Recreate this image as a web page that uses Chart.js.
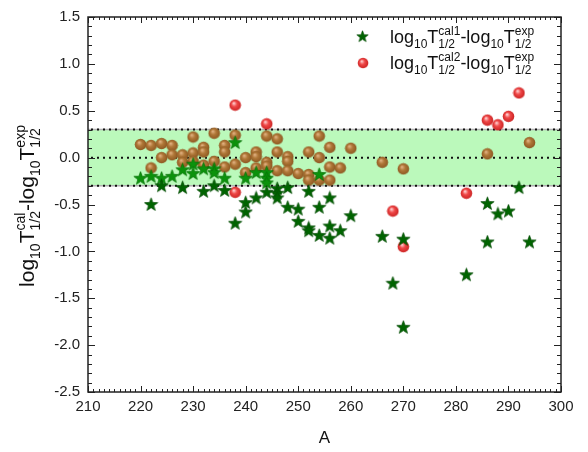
<!DOCTYPE html>
<html>
<head>
<meta charset="utf-8">
<script src="https://cdn.jsdelivr.net/npm/chart.js@4"></script>
<style>
  body { margin: 0; background: #fff; }
</style>
</head>
<body>
<canvas id="decay" width="588" height="452"></canvas>
<script>
// mass number A and log10 T(cal) - log10 T(exp)
var cal1A = [220, 222, 222, 224, 224, 226, 228, 228, 230, 230, 232, 232, 234, 234, 234, 236, 236, 238, 238,
  240, 240, 240, 242, 242, 244, 244, 244, 244, 246, 246, 246, 248, 248, 250, 250, 252, 252, 252,
  254, 254, 254, 256, 256, 256, 258, 260, 266, 268, 270, 270, 282, 286, 286, 288, 290, 292, 294];
var cal1Diff = [-0.22, -0.20, -0.50, -0.22, -0.30, -0.20, -0.13, -0.32, -0.07, -0.17, -0.12, -0.36, -0.12, -0.16, -0.30, -0.22, -0.35, 0.16, -0.70,
  -0.22, -0.48, -0.58, -0.16, -0.43, -0.16, -0.22, -0.27, -0.37, -0.33, -0.38, -0.43, -0.32, -0.53, -0.55, -0.68, -0.36, -0.75, -0.78,
  -0.18, -0.53, -0.83, -0.43, -0.73, -0.86, -0.78, -0.62, -0.84, -1.34, -0.87, -1.81, -1.25, -0.49, -0.90, -0.60, -0.57, -0.32, -0.90];

var cal2A = [220, 222, 222, 224, 224, 226, 226, 228, 228, 230, 230, 230, 232, 232, 232, 234, 234, 236, 236, 236,
  238, 238, 238, 238, 240, 240, 242, 242, 242, 244, 244, 244, 244, 246, 246, 246, 248, 248, 248, 250,
  252, 252, 252, 254, 254, 254, 256, 256, 256, 258, 260, 266, 268, 270, 270, 282, 286, 286, 288, 290, 292, 294];
var cal2Diff = [0.14, 0.13, -0.11, 0.15, 0.00, 0.13, 0.03, 0.03, -0.05, 0.22, 0.05, -0.04, 0.11, 0.06, -0.08, 0.26, -0.04, 0.13, 0.06, -0.10,
  0.56, 0.24, -0.07, -0.37, 0.00, -0.16, 0.06, 0.01, -0.11, 0.36, 0.23, -0.05, -0.09, 0.20, 0.06, -0.14, 0.01, -0.04, -0.14, -0.17,
  0.06, -0.18, -0.24, 0.23, 0.00, -0.24, 0.11, -0.10, -0.24, -0.11, 0.10, -0.05, -0.57, -0.12, -0.95, -0.38, 0.40, 0.04, 0.35, 0.44, 0.69, 0.16];

var xTicks = [210, 220, 230, 240, 250, 260, 270, 280, 290, 300];
var yTicks = [1.5, 1.0, 0.5, 0.0, -0.5, -1.0, -1.5, -2.0, -2.5];
var band = 0.3;

var FONT = '"Liberation Sans", Arial, sans-serif';

// marker images
function makeBall(light, base, dark) {
  var c = document.createElement('canvas');
  c.width = c.height = 13;
  var g = c.getContext('2d');
  var grd = g.createRadialGradient(5, 4.5, 0.4, 6.5, 6.5, 6.2);
  grd.addColorStop(0, light);
  grd.addColorStop(0.4, base);
  grd.addColorStop(1, dark);
  g.fillStyle = grd;
  g.beginPath();
  g.arc(6.5, 6.5, 5.8, 0, Math.PI * 2);
  g.fill();
  return c;
}
function makeStar(fill, stroke) {
  var c = document.createElement('canvas');
  c.width = c.height = 15;
  var g = c.getContext('2d');
  g.beginPath();
  for (var i = 0; i < 10; i++) {
    var r = i % 2 ? 2.9 : 7;
    var a = -Math.PI / 2 + i * Math.PI / 5;
    var px = 7.5 + r * Math.cos(a), py = 7.8 + r * Math.sin(a);
    if (i) g.lineTo(px, py); else g.moveTo(px, py);
  }
  g.closePath();
  g.fillStyle = fill;
  g.fill();
  g.lineWidth = 0.7;
  g.strokeStyle = stroke;
  g.stroke();
  return c;
}
var redBall = makeBall('#ffd0d0', '#f04848', '#c82020');
var brownBall = makeBall('#e0b080', '#b07838', '#8a5520');
var darkStar = makeStar('#006400', '#004a00');
var lightStar = makeStar('#0c920c', '#067006');

// text with sub/superscripts
var labelParts = function (tag) {
  return [{ t: 'log' }, { sub: '10' }, { t: 'T' }, { sup: tag, sub: '1/2' },
    { t: '-log' }, { sub: '10' }, { t: 'T' }, { sup: 'exp', sub: '1/2' }];
};
function drawRich(ctx, parts, x, y, big, small, dry) {
  var cx = x;
  parts.forEach(function (p) {
    if (p.t) {
      ctx.font = big + 'px ' + FONT;
      if (!dry) ctx.fillText(p.t, cx, y);
      cx += ctx.measureText(p.t).width;
    } else {
      ctx.font = small + 'px ' + FONT;
      var w = 0;
      if (p.sup) {
        if (!dry) ctx.fillText(p.sup, cx, y - big * 0.42);
        w = Math.max(w, ctx.measureText(p.sup).width);
      }
      if (p.sub) {
        if (!dry) ctx.fillText(p.sub, cx, y + big * 0.3);
        w = Math.max(w, ctx.measureText(p.sub).width);
      }
      cx += w;
    }
  });
  return cx - x;
}

var decor = {
  id: 'decor',
  beforeDatasetsDraw: function (chart) {
    var ctx = chart.ctx, a = chart.chartArea, y = chart.scales.y;
    var yt = y.getPixelForValue(band), yb = y.getPixelForValue(-band);
    ctx.save();
    ctx.fillStyle = '#bbf9bb';
    ctx.fillRect(a.left, yt, a.right - a.left, yb - yt);
    ctx.strokeStyle = '#b0b0b0';
    ctx.lineWidth = 1.5;
    [yt, yb].forEach(function (p) {
      ctx.beginPath(); ctx.moveTo(a.left, p); ctx.lineTo(a.right, p); ctx.stroke();
    });
    ctx.strokeStyle = '#111';
    ctx.lineWidth = 2;
    ctx.setLineDash([2, 4]);
    [band, 0, -band].forEach(function (v) {
      var p = y.getPixelForValue(v);
      ctx.beginPath(); ctx.moveTo(a.left + 3, p); ctx.lineTo(a.right, p); ctx.stroke();
    });
    ctx.restore();
  },
  afterDraw: function (chart) {
    var ctx = chart.ctx, a = chart.chartArea, x = chart.scales.x, y = chart.scales.y;
    ctx.save();
    ctx.strokeStyle = '#222';
    ctx.lineWidth = 1.5;
    ctx.strokeRect(a.left, a.top, a.right - a.left, a.bottom - a.top);
    ctx.lineWidth = 1;
    ctx.beginPath();
    for (var v = 210; v <= 300; v++) {
      var px = Math.round(x.getPixelForValue(v)) + 0.5;
      var len = v % 10 === 0 ? 6 : 3;
      ctx.moveTo(px, a.bottom); ctx.lineTo(px, a.bottom - len);
      ctx.moveTo(px, a.top); ctx.lineTo(px, a.top + len);
    }
    for (var k = -25; k <= 15; k++) {
      var py = Math.round(y.getPixelForValue(k / 10)) + 0.5;
      var l2 = k % 5 === 0 ? 7 : 4;
      ctx.moveTo(a.left, py); ctx.lineTo(a.left + l2, py);
      ctx.moveTo(a.right, py); ctx.lineTo(a.right - l2, py);
    }
    ctx.stroke();

    ctx.fillStyle = '#111';
    ctx.textBaseline = 'alphabetic';
    // x title
    ctx.font = '17px ' + FONT;
    ctx.textAlign = 'center';
    ctx.fillText('A', (a.left + a.right) / 2, 443);
    ctx.textAlign = 'left';

    // y title
    var yParts = labelParts('cal');
    var w = drawRich(ctx, yParts, 0, 0, 21, 14, true);
    ctx.save();
    ctx.translate(34, 206);
    ctx.rotate(-Math.PI / 2);
    drawRich(ctx, yParts, -w / 2, 0, 21, 14);
    ctx.restore();

    // legend
    ctx.drawImage(darkStar, 356, 30, 13, 13);
    drawRich(ctx, labelParts('cal1'), 390, 43, 18, 12);
    ctx.drawImage(redBall, 357, 57, 12, 12);
    drawRich(ctx, labelParts('cal2'), 390, 69, 18, 12);
    ctx.restore();
  }
};

function toPoints(xs, ys) {
  return xs.map(function (v, i) { return { x: v, y: ys[i] }; });
}

var ctx = document.getElementById('decay').getContext('2d');
var chart = new Chart(ctx, {
  type: 'scatter',
  data: {
    datasets: [{
      label: 'cal1',
      data: toPoints(cal1A, cal1Diff),
      pointRadius: 6,
      pointStyle: function (c) {
        var v = c.raw ? c.raw.y : 0;
        return Math.abs(v) < band ? lightStar : darkStar;
      }
    }, {
      label: 'cal2',
      data: toPoints(cal2A, cal2Diff),
      pointRadius: 6,
      pointStyle: function (c) {
        var v = c.raw ? c.raw.y : 0;
        return Math.abs(v) < band ? brownBall : redBall;
      }
    }]
  },
  options: {
    responsive: false,
    animation: false,
    layout: { padding: { top: 14, right: 27, left: 0, bottom: 0 } },
    plugins: { legend: { display: false }, tooltip: { enabled: false } },
    scales: {
      x: {
        type: 'linear', min: 210, max: 300,
        afterBuildTicks: function (s) { s.ticks = xTicks.map(function (v) { return { value: v }; }); },
        afterFit: function (s) { s.height = 60; },
        grid: { display: false, drawTicks: false },
        border: { display: false },
        ticks: { color: '#222', padding: 6, font: { size: 15, family: FONT }, maxRotation: 0 }
      },
      y: {
        type: 'linear', min: -2.5, max: 1.5,
        afterBuildTicks: function (s) { s.ticks = yTicks.map(function (v) { return { value: v }; }); },
        afterFit: function (s) { s.width = 88; },
        grid: { display: false, drawTicks: false },
        border: { display: false },
        ticks: {
          color: '#222', padding: 8, font: { size: 15, family: FONT },
          callback: function (v) { return Number(v).toFixed(1); }
        }
      }
    }
  },
  plugins: [decor]
});
</script>
</body>
</html>
